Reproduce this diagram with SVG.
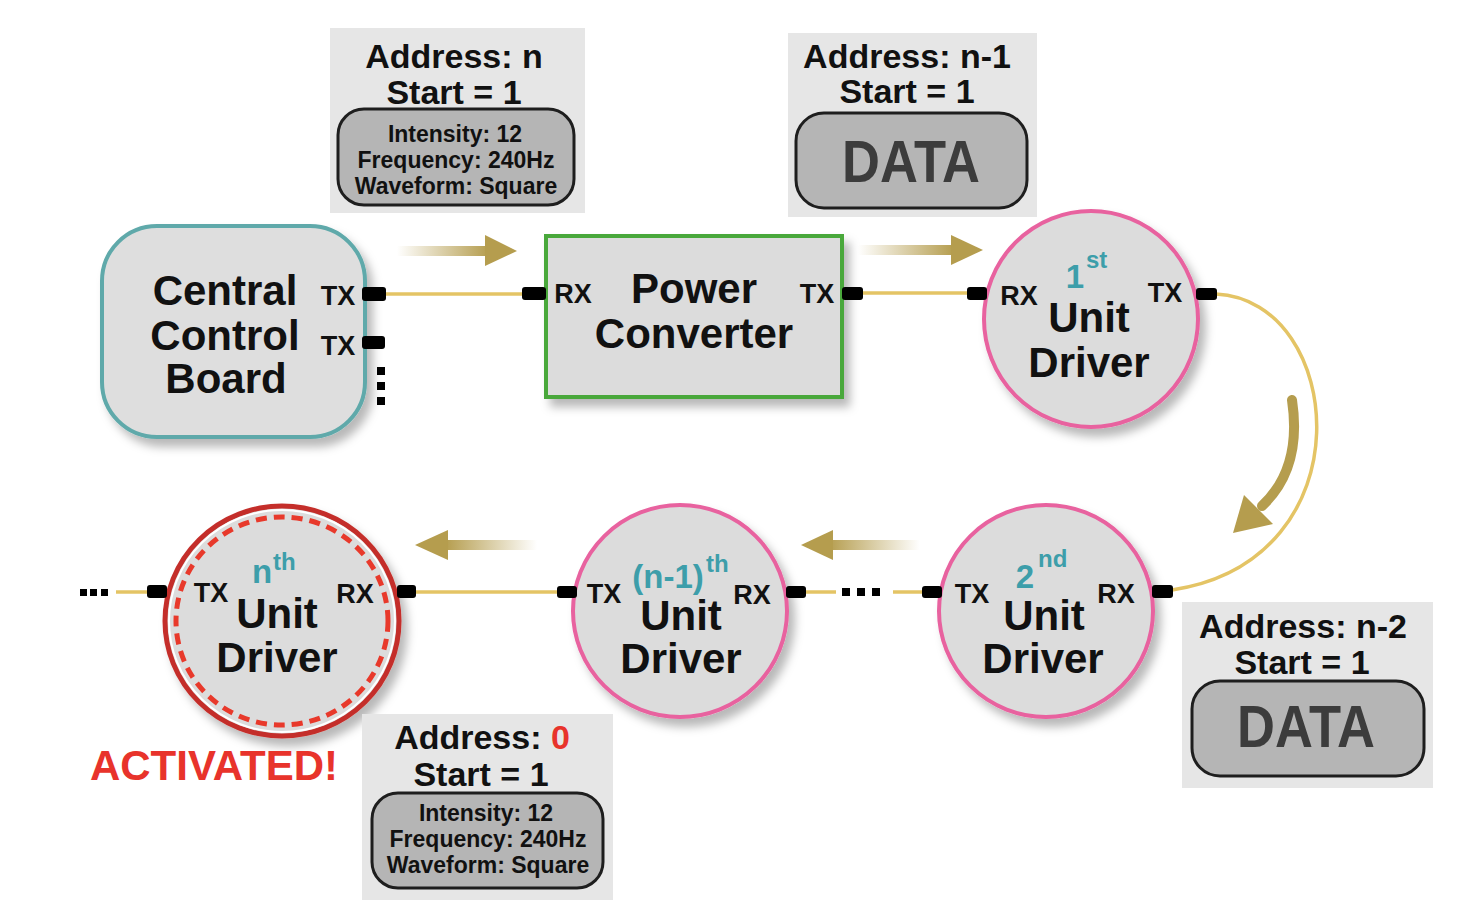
<svg xmlns="http://www.w3.org/2000/svg" width="1470" height="918" viewBox="0 0 1470 918">
<defs>
<style>
text{font-family:"Liberation Sans",Arial,sans-serif;font-weight:bold;fill:#111}
.mid{text-anchor:middle}
.big{font-size:42px}
.port{font-size:27px}
.ord{fill:#3d9eaa;font-size:33px}
.sup{fill:#3d9eaa;font-size:24px}
.addr{font-size:34px}
.info{font-size:23px}
.data{font-size:60px;fill:#3c3c3c}
.pk{fill:#e6e6e6}
.inner{fill:#b5b5b5;stroke:#1e1e1e;stroke-width:3}
.wire{fill:none;stroke:#e4c465;stroke-width:3.5}
.pt{fill:#000}
.ud{fill:#dcdcdc;stroke:#e8629f;stroke-width:4}
</style>
<filter id="sh" x="-20%" y="-20%" width="150%" height="150%">
<feDropShadow dx="6" dy="8" stdDeviation="5" flood-color="#000" flood-opacity="0.28"/>
</filter>
<linearGradient id="gR" x1="0" y1="0" x2="1" y2="0">
<stop offset="0" stop-color="#b59d4e" stop-opacity="0"/>
<stop offset="1" stop-color="#b59d4e"/>
</linearGradient>
<linearGradient id="gL" x1="1" y1="0" x2="0" y2="0">
<stop offset="0" stop-color="#b59d4e" stop-opacity="0"/>
<stop offset="1" stop-color="#b59d4e"/>
</linearGradient>
</defs>
<rect width="1470" height="918" fill="#fff"/>

<!-- connectors -->
<g id="connectors">
<path class="wire" d="M385,294 H524"/>
<path class="wire" d="M862,293 H970"/>
<path class="wire" d="M1216,294 C1345,300 1370,560 1172,590"/>
<path class="wire" d="M805,592 H836"/>
<path class="wire" d="M893,592 H925"/>
<path class="wire" d="M415,592 H559"/>
<path class="wire" d="M116,592 H149"/>
<g class="pt">
<rect x="842" y="588" width="8" height="8"/><rect x="857" y="588" width="8" height="8"/><rect x="872" y="588" width="8" height="8"/>
<rect x="80" y="589" width="7" height="7"/><rect x="90" y="589" width="7" height="7"/><rect x="101" y="589" width="7" height="7"/>
</g>
<!-- flow arrows -->
<rect x="397" y="246" width="92" height="10" fill="url(#gR)"/>
<polygon points="485,235 517,251 485,266" fill="#b59d4e"/>
<rect x="858" y="245" width="96" height="10" fill="url(#gR)"/>
<polygon points="951,235 983,250 951,265" fill="#b59d4e"/>
<rect x="828" y="540" width="92" height="10" fill="url(#gL)"/>
<polygon points="833,530 801,545 833,560" fill="#b59d4e"/>
<rect x="445" y="540" width="92" height="10" fill="url(#gL)"/>
<polygon points="448,530 415,545 448,560" fill="#b59d4e"/>
<path d="M1292,400 C1298,440 1292,478 1262,506" fill="none" stroke="#b59d4e" stroke-width="10" stroke-linecap="round"/>
<polygon points="1244,495 1273,524 1233,533" fill="#b59d4e"/>
</g>

<!-- Central Control Board -->
<g id="ccb">
<rect x="102" y="226" width="263" height="211" rx="55" fill="#dedede" stroke="#5fa9aa" stroke-width="4" filter="url(#sh)"/>
<text class="big mid" x="225" y="305">Central</text>
<text class="big mid" x="225" y="350">Control</text>
<text class="big mid" x="226" y="393">Board</text>
<text class="port mid" x="338" y="305">TX</text>
<text class="port mid" x="338" y="355">TX</text>
<rect class="pt" x="362" y="287" width="24" height="14" rx="3"/>
<rect class="pt" x="362" y="336" width="23" height="13" rx="3"/>
<rect class="pt" x="377" y="367" width="8" height="8"/>
<rect class="pt" x="377" y="382" width="8" height="8"/>
<rect class="pt" x="377" y="397" width="8" height="8"/>
</g>

<!-- Power Converter -->
<g id="pc">
<rect x="546" y="236" width="296" height="161" fill="#dcdcdc" stroke="#4aa83a" stroke-width="4" filter="url(#sh)"/>
<text class="big mid" x="694" y="303">Power</text>
<text class="big mid" x="694" y="348">Converter</text>
<text class="port mid" x="573" y="303">RX</text>
<text class="port mid" x="817" y="303">TX</text>
<rect class="pt" x="522" y="287" width="24" height="13" rx="3"/>
<rect class="pt" x="842" y="287" width="21" height="13" rx="3"/>
</g>

<!-- 1st unit driver -->
<g id="ud1">
<ellipse class="ud" cx="1091" cy="319" rx="107" ry="108" filter="url(#sh)"/>
<text class="ord mid" x="1075" y="288">1</text>
<text class="sup" x="1086" y="268">st</text>
<text class="big mid" x="1089" y="332">Unit</text>
<text class="big mid" x="1089" y="377">Driver</text>
<text class="port mid" x="1019" y="305">RX</text>
<text class="port mid" x="1165" y="302">TX</text>
<rect class="pt" x="967" y="287" width="20" height="13" rx="3"/>
<rect class="pt" x="1196" y="288" width="21" height="12" rx="3"/>
</g>

<!-- 2nd unit driver -->
<g id="ud2">
<ellipse class="ud" cx="1046" cy="611" rx="107" ry="106" filter="url(#sh)"/>
<text class="ord mid" x="1025" y="588">2</text>
<text class="sup" x="1038" y="567">nd</text>
<text class="big mid" x="1044" y="630">Unit</text>
<text class="big mid" x="1043" y="673">Driver</text>
<text class="port mid" x="972" y="603">TX</text>
<text class="port mid" x="1116" y="603">RX</text>
<rect class="pt" x="922" y="586" width="20" height="12" rx="3"/>
<rect class="pt" x="1152" y="585" width="21" height="13" rx="3"/>
</g>

<!-- (n-1)th unit driver -->
<g id="udn1">
<ellipse class="ud" cx="680" cy="611" rx="107" ry="106" filter="url(#sh)"/>
<text class="ord mid" x="668" y="588">(n-1)</text>
<text class="sup" x="706" y="572">th</text>
<text class="big mid" x="681" y="630">Unit</text>
<text class="big mid" x="681" y="673">Driver</text>
<text class="port mid" x="604" y="603">TX</text>
<text class="port mid" x="752" y="604">RX</text>
<rect class="pt" x="557" y="586" width="20" height="12" rx="3"/>
<rect class="pt" x="786" y="586" width="20" height="12" rx="3"/>
</g>

<!-- nth unit driver -->
<g id="udn">
<ellipse cx="282" cy="621" rx="117" ry="115" fill="#dcdcdc" stroke="#c42f2a" stroke-width="5" filter="url(#sh)"/>
<ellipse cx="282" cy="621" rx="113" ry="111" fill="none" stroke="#fff" stroke-width="2"/>
<ellipse cx="282" cy="621" rx="106" ry="104" fill="none" stroke="#e8392b" stroke-width="5" stroke-dasharray="11 7"/>
<text class="ord mid" x="262" y="583">n</text>
<text class="sup" x="273" y="570">th</text>
<text class="big mid" x="277" y="628">Unit</text>
<text class="big mid" x="277" y="672">Driver</text>
<text class="port mid" x="211" y="602">TX</text>
<text class="port mid" x="355" y="603">RX</text>
<rect class="pt" x="147" y="585" width="20" height="13" rx="3"/>
<rect class="pt" x="397" y="585" width="19" height="13" rx="3"/>
<text class="mid" x="214" y="780" style="font-size:42px;fill:#e8332b">ACTIVATED!</text>
</g>

<!-- packet: address n -->
<g id="pkt-n">
<rect class="pk" x="330" y="28" width="255" height="185"/>
<text class="addr mid" x="454" y="68">Address: n</text>
<text class="addr mid" x="454" y="104">Start = 1</text>
<rect class="inner" x="338" y="109" width="236" height="96" rx="26"/>
<text class="info mid" x="455" y="142">Intensity: 12</text>
<text class="info mid" x="456" y="168">Frequency: 240Hz</text>
<text class="info mid" x="456" y="194">Waveform: Square</text>
</g>

<!-- packet: address n-1 -->
<g id="pkt-n1">
<rect class="pk" x="788" y="33" width="249" height="184"/>
<text class="addr mid" x="907" y="68">Address: n-1</text>
<text class="addr mid" x="907" y="103">Start = 1</text>
<rect class="inner" x="796" y="113" width="231" height="95" rx="28"/>
<text class="data mid" x="911" y="182" textLength="138" lengthAdjust="spacingAndGlyphs">DATA</text>
</g>

<!-- packet: address n-2 -->
<g id="pkt-n2">
<rect class="pk" x="1182" y="602" width="251" height="186"/>
<text class="addr mid" x="1303" y="638">Address: n-2</text>
<text class="addr mid" x="1302" y="674">Start = 1</text>
<rect class="inner" x="1192" y="681" width="232" height="95" rx="28"/>
<text class="data mid" x="1306" y="747" textLength="138" lengthAdjust="spacingAndGlyphs">DATA</text>
</g>

<!-- packet: address 0 -->
<g id="pkt-0">
<rect class="pk" x="362" y="714" width="251" height="186"/>
<text class="addr mid" x="482" y="749">Address: <tspan style="fill:#e8332b">0</tspan></text>
<text class="addr mid" x="481" y="786">Start = 1</text>
<rect class="inner" x="372" y="793" width="231" height="95" rx="26"/>
<text class="info mid" x="486" y="821">Intensity: 12</text>
<text class="info mid" x="488" y="847">Frequency: 240Hz</text>
<text class="info mid" x="488" y="873">Waveform: Square</text>
</g>
</svg>
